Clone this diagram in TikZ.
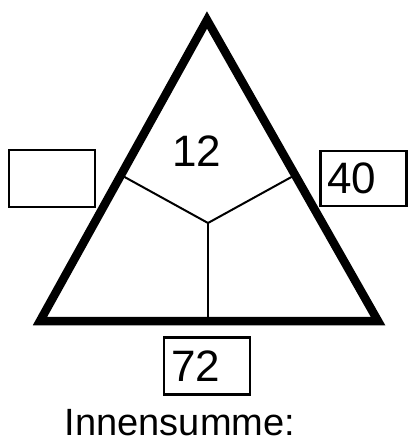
\documentclass[tikz,border=0pt]{standalone}
\usepackage{fontspec}
\setmainfont{Liberation Sans}
\usepackage{tikz}
\usetikzlibrary{calc}
\tikzset{
  triside/.style={draw=black,line width=8.5pt,line join=miter},
  splitline/.style={draw=black,line width=2pt},
  numbox/.style={draw=black,line width=2.5pt,minimum width=86pt,minimum height=57pt,text width=72pt,inner xsep=7pt,align=left,font=\fontsize{44}{48}\selectfont},
  numlabel/.style={font=\fontsize{44}{48}\selectfont,inner sep=0pt},
  sumlabel/.style={font=\fontsize{38}{42}\selectfont,inner sep=0pt}
}
\begin{document}
\begin{tikzpicture}[x=1pt,y=-1pt]
\useasboundingbox (0,0) rectangle (408,442);
% triangle and its three fields
\coordinate (top) at (207,20);
\coordinate (bl) at (40,321);
\coordinate (br) at (378,321);
\coordinate (mid) at (208,223);
\coordinate (ls) at ($(top)!0.515!(bl)$);
\coordinate (rs) at ($(top)!0.515!(br)$);
\coordinate (bs) at (208,321);
\draw[splitline] (ls) -- (mid) -- (rs);
\draw[splitline] (mid) -- (bs);
\draw[triside] (top) -- (bl) -- (br) -- cycle;
\node[numlabel] (inner) at (197,151) {12};
% boxes next to the sides
\node[numbox] (left) at (52,178.5) {};
\node[numbox,minimum width=85pt,minimum height=55pt] (right) at (363.5,178.5) {40};
\node[numbox] (bottom) at (207,366) {72};
\node[sumlabel,anchor=base] (sum) at (180,435) {Innensumme:};
\end{tikzpicture}
\end{document}
